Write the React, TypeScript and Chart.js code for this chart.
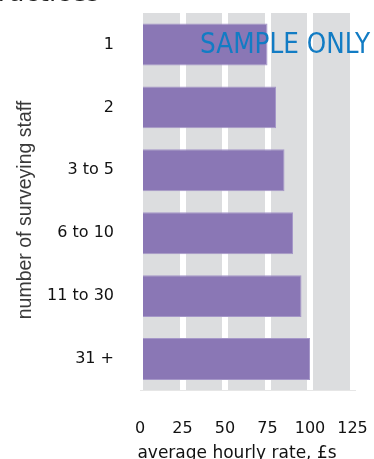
import React, { useEffect, useRef } from "react";
import { Chart, registerables } from "chart.js";

Chart.register(...registerables);

const categories = ["1", "2", "3 to 5", "6 to 10", "11 to 30", "31 +"];
const hourlyRates = [75, 80, 85, 90, 95, 100];
const xTicks = [0, 25, 50, 75, 100, 125];

const W = 374;
const H = 459;

const decorations = {
  id: "decorations",
  beforeDraw(chart: any) {
    const { ctx, chartArea } = chart;
    ctx.save();
    ctx.fillStyle = "#dcdddf";
    ctx.fillRect(chartArea.left, chartArea.top, chartArea.right - chartArea.left, chartArea.bottom - chartArea.top);
    ctx.restore();
  },
  afterDraw(chart: any) {
    const { ctx } = chart;
    ctx.save();
    // heading, mostly above the visible area
    ctx.fillStyle = "#222";
    ctx.font = "26px 'DejaVu Sans'";
    ctx.textAlign = "right";
    ctx.textBaseline = "alphabetic";
    ctx.fillText("practices", 100, 1);

    // y axis title
    ctx.save();
    ctx.translate(26, 210);
    ctx.rotate(-Math.PI / 2);
    ctx.fillStyle = "#3a3a3a";
    ctx.font = "19.5px 'Liberation Sans'";
    ctx.textAlign = "center";
    ctx.textBaseline = "middle";
    ctx.fillText("number of surveying staff", 0, 0);
    ctx.restore();

    // x axis title
    ctx.fillStyle = "#111";
    ctx.font = "17px 'DejaVu Sans'";
    ctx.textAlign = "center";
    ctx.textBaseline = "alphabetic";
    ctx.fillText("average hourly rate, £s", 237, 458);

    // watermark
    ctx.fillStyle = "#127cc4";
    ctx.font = "28px 'DejaVu Sans Condensed', 'DejaVu Sans'";
    ctx.textAlign = "left";
    const text = "SAMPLE ONLY";
    const w = ctx.measureText(text).width;
    ctx.translate(200, 53);
    ctx.scale(170 / w, 1);
    ctx.fillText(text, 0, 0);
    ctx.restore();
  },
};

function clearPadding(scale: any) {
  scale.paddingLeft = 0;
  scale.paddingRight = 0;
  scale.paddingTop = 0;
  scale.paddingBottom = 0;
}

export default function App() {
  const ref = useRef<HTMLCanvasElement>(null);

  useEffect(() => {
    document.body.style.margin = "0";
    const chart = new Chart(ref.current!, {
      type: "bar",
      data: {
        labels: categories,
        datasets: [
          {
            data: hourlyRates,
            backgroundColor: "#8a77b5",
            borderColor: "#a597c8",
            borderWidth: 1,
            categoryPercentage: 0.667,
            barPercentage: 1,
          },
        ],
      },
      options: {
        indexAxis: "y",
        animation: false,
        responsive: false,
        layout: { padding: { top: 13, right: 21.5, left: 0, bottom: 0 } },
        plugins: { legend: { display: false }, tooltip: { enabled: false } },
        scales: {
          x: {
            min: 0,
            max: 125,
            afterBuildTicks(scale: any) {
              scale.ticks = xTicks.map((v) => ({ value: v }));
            },
            afterFit(scale: any) {
              scale.height = 68.5;
              clearPadding(scale);
            },
            grid: { color: "#ffffff", lineWidth: 6, drawTicks: false },
            border: { display: true, color: "#e6e6e6", width: 1 },
            ticks: {
              padding: 29,
              color: "#111",
              font: { family: "'DejaVu Sans'", size: 16 },
            },
          },
          y: {
            afterFit(scale: any) {
              scale.width = 140;
              clearPadding(scale);
            },
            grid: { display: false, drawTicks: false },
            border: { display: false },
            ticks: {
              padding: 26,
              color: "#111",
              font: { family: "'DejaVu Sans'", size: 16 },
            },
          },
        },
      },
      plugins: [decorations],
    });
    return () => chart.destroy();
  }, []);

  return (
    <div style={{ width: W, height: H }}>
      <canvas ref={ref} width={W} height={H} style={{ display: "block" }} />
    </div>
  );
}
